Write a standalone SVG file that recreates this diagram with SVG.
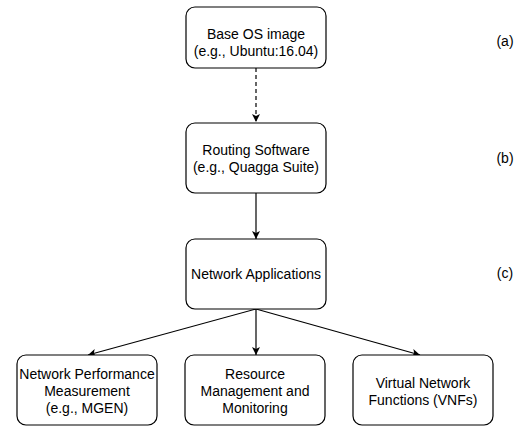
<svg xmlns="http://www.w3.org/2000/svg" width="523" height="427" viewBox="0 0 523 427">
<defs>
<marker id="arr" viewBox="0 0 10 10" refX="10" refY="5" markerWidth="8" markerHeight="8" markerUnits="userSpaceOnUse" orient="auto">
<path d="M0,0 L10,5 L0,10 L2.5,5 Z" fill="#000"/>
</marker>
</defs>
<style>
.box{fill:#fff;stroke:#000;stroke-width:1.2}
.t{font-family:"Liberation Sans",Arial,sans-serif;font-size:14px;fill:#000;text-anchor:middle}
.c{stroke:#000;stroke-width:1.2;fill:none;marker-end:url(#arr)}
</style>
<rect width="523" height="427" fill="#fff"/>
<g id="connectors">
<line class="c" x1="256" y1="68" x2="256" y2="122" stroke-dasharray="4,3"/>
<line class="c" x1="256" y1="193" x2="256" y2="239"/>
<line class="c" x1="256" y1="309" x2="88" y2="355"/>
<line class="c" x1="256" y1="309" x2="256" y2="355"/>
<line class="c" x1="256" y1="309" x2="420" y2="355"/>
</g>
<g id="node-a">
<rect class="box" x="186" y="7" width="140" height="61" rx="9"/>
<text class="t" x="256" y="39">Base OS image</text>
<text class="t" x="256" y="56">(e.g., Ubuntu:16.04)</text>
</g>
<g id="node-b">
<rect class="box" x="186" y="123" width="140" height="70" rx="9"/>
<text class="t" x="256" y="155">Routing Software</text>
<text class="t" x="256" y="172">(e.g., Quagga Suite)</text>
</g>
<g id="node-c">
<rect class="box" x="186" y="239" width="140" height="70" rx="9"/>
<text class="t" x="256" y="279">Network Applications</text>
</g>
<g id="node-perf">
<rect class="box" x="17" y="355" width="140" height="70" rx="9"/>
<text class="t" x="87" y="379">Network Performance</text>
<text class="t" x="87" y="396">Measurement</text>
<text class="t" x="87" y="413">(e.g., MGEN)</text>
</g>
<g id="node-res">
<rect class="box" x="185" y="355" width="140" height="70" rx="9"/>
<text class="t" x="255" y="379">Resource</text>
<text class="t" x="255" y="396">Management and</text>
<text class="t" x="255" y="413">Monitoring</text>
</g>
<g id="node-vnf">
<rect class="box" x="353" y="355" width="140" height="70" rx="9"/>
<text class="t" x="423" y="388">Virtual Network</text>
<text class="t" x="423" y="405">Functions (VNFs)</text>
</g>
<g id="labels">
<text class="t" x="505" y="46">(a)</text>
<text class="t" x="505" y="163">(b)</text>
<text class="t" x="505" y="278">(c)</text>
</g>
</svg>
